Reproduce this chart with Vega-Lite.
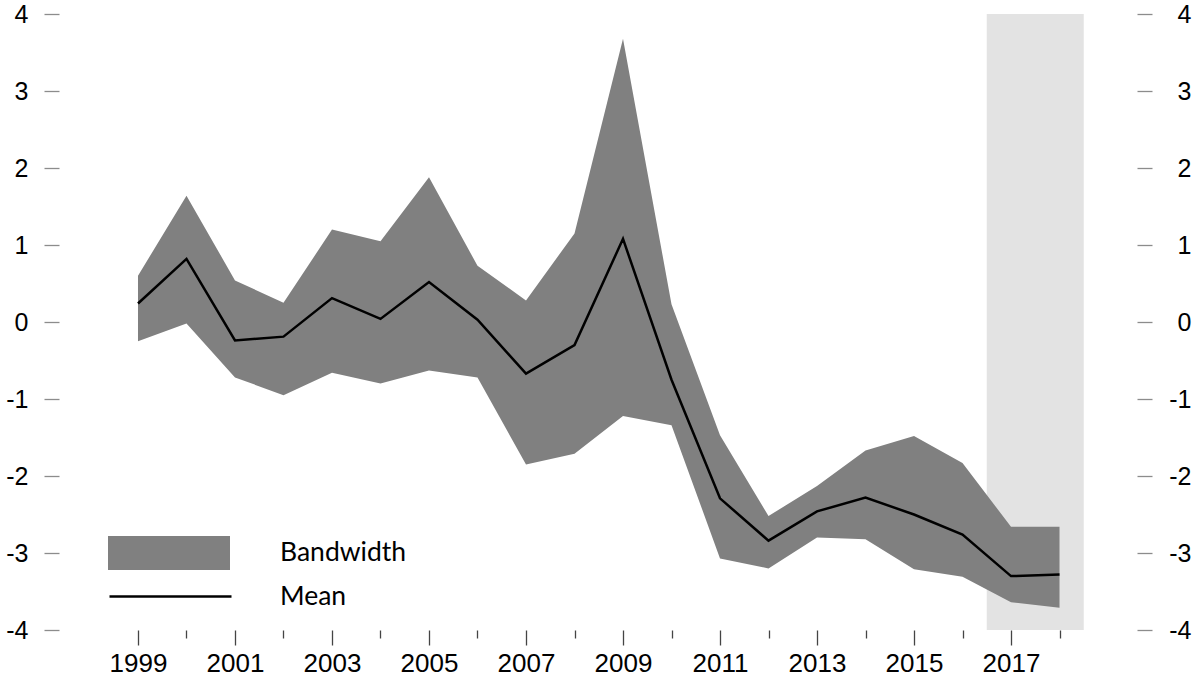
{
  "$schema": "https://vega.github.io/schema/vega-lite/v6.json",
  "width": 1108,
  "height": 616,
  "autosize": {"type": "none"},
  "padding": {"left": 44, "top": 14, "right": 42, "bottom": 47},
  "background": "white",
  "config": {
    "view": {"stroke": null},
    "axis": {"labelFont": "Liberation Sans", "labelFontSize": 25, "labelColor": "black", "domain": false, "grid": false, "title": null}
  },
  "datasets": {
    "series": [
      {"year": 1999, "lo": -0.25, "hi": 0.60, "mean": 0.24},
      {"year": 2000, "lo": -0.02, "hi": 1.64, "mean": 0.82},
      {"year": 2001, "lo": -0.72, "hi": 0.54, "mean": -0.24},
      {"year": 2002, "lo": -0.95, "hi": 0.25, "mean": -0.19},
      {"year": 2003, "lo": -0.66, "hi": 1.20, "mean": 0.31},
      {"year": 2004, "lo": -0.80, "hi": 1.05, "mean": 0.04},
      {"year": 2005, "lo": -0.63, "hi": 1.88, "mean": 0.52},
      {"year": 2006, "lo": -0.72, "hi": 0.73, "mean": 0.03},
      {"year": 2007, "lo": -1.85, "hi": 0.28, "mean": -0.67},
      {"year": 2008, "lo": -1.71, "hi": 1.15, "mean": -0.30},
      {"year": 2009, "lo": -1.22, "hi": 3.68, "mean": 1.08},
      {"year": 2010, "lo": -1.34, "hi": 0.23, "mean": -0.75},
      {"year": 2011, "lo": -3.07, "hi": -1.47, "mean": -2.29},
      {"year": 2012, "lo": -3.20, "hi": -2.52, "mean": -2.84},
      {"year": 2013, "lo": -2.80, "hi": -2.13, "mean": -2.46},
      {"year": 2014, "lo": -2.82, "hi": -1.67, "mean": -2.28},
      {"year": 2015, "lo": -3.21, "hi": -1.48, "mean": -2.50},
      {"year": 2016, "lo": -3.31, "hi": -1.83, "mean": -2.76},
      {"year": 2017, "lo": -3.64, "hi": -2.66, "mean": -3.30},
      {"year": 2018, "lo": -3.71, "hi": -2.66, "mean": -3.28}
    ],
    "band": [{"start": 2016.5, "end": 2018.5, "bottom": -4, "top": 4}]
  },
  "layer": [
    {
      "data": {"name": "band"},
      "mark": {"type": "rect", "color": "#e3e3e3"},
      "encoding": {
        "x": {"field": "start", "type": "quantitative", "scale": {"domain": [1997.062, 2019.907], "nice": false, "zero": false},
          "axis": {"orient": "bottom", "values": [1999, 2000, 2001, 2002, 2003, 2004, 2005, 2006, 2007, 2008, 2009, 2010, 2011, 2012, 2013, 2014, 2015, 2016, 2017, 2018],
            "labelExpr": "datum.value % 2 == 1 ? datum.value + '' : ''",
            "tickSize": {"condition": {"test": "datum.value % 2 == 1", "value": 15}, "value": 8},
            "tickColor": "#444444", "tickWidth": 1.3, "labelPadding": 5, "labelFont": "Liberation Sans", "labelFontSize": 26, "labelFlush": false, "labelOverlap": false}},
        "x2": {"field": "end"},
        "y": {"field": "bottom", "type": "quantitative", "scale": {"domain": [-4, 4], "nice": false, "zero": false},
          "axis": {"orient": "left", "values": [-4, -3, -2, -1, 0, 1, 2, 3, 4], "labelExpr": "datum.value < 0 ? '-' + abs(datum.value) : '' + datum.value", "tickSize": -15, "tickColor": "#8c8c8c", "tickWidth": 1.3, "labelPadding": 31, "labelAlign": "right", "labelBaseline": "middle"}},
        "y2": {"field": "top"}
      }
    },
    {
      "mark": {"type": "rule", "color": "#555555", "strokeWidth": 1},
      "encoding": {"y": {"datum": 0, "type": "quantitative", "axis": null}}
    },
    {
      "data": {"name": "series"},
      "mark": {"type": "area", "opacity": 1},
      "encoding": {
        "x": {"field": "year", "type": "quantitative"},
        "y": {"field": "lo", "type": "quantitative", "axis": null},
        "y2": {"field": "hi"},
        "fill": {"datum": "Bandwidth", "type": "nominal", "scale": {"range": ["#808080"]},
          "legend": {"orient": "none", "legendX": 64, "legendY": 478, "title": null, "symbolType": "M-1,-0.28H1V0.28H-1Z", "symbolSize": 14884, "symbolStrokeWidth": 0, "symbolOpacity": 1, "symbolFillColor": "#808080", "labelFont": "Lato", "labelFontSize": 26.5, "labelColor": "black", "labelOffset": 50}}
      }
    },
    {
      "data": {"name": "series"},
      "mark": {"type": "line", "strokeWidth": 2.5},
      "encoding": {
        "x": {"field": "year", "type": "quantitative"},
        "y": {"field": "mean", "type": "quantitative",
          "axis": {"orient": "right", "values": [-4, -3, -2, -1, 0, 1, 2, 3, 4], "labelExpr": "datum.value < 0 ? '-' + abs(datum.value) : '' + datum.value", "tickSize": -15, "tickColor": "#8c8c8c", "tickWidth": 1.3, "labelPadding": 54, "labelAlign": "right", "labelBaseline": "middle"}},
        "stroke": {"datum": "Mean", "type": "nominal", "scale": {"range": ["black"]},
          "legend": {"orient": "none", "legendX": 64, "legendY": 520, "title": null, "symbolType": "stroke", "symbolSize": 14884, "symbolStrokeWidth": 2.5, "symbolStrokeColor": "black", "labelFont": "Lato", "labelFontSize": 26.5, "labelColor": "black", "labelOffset": 47}}
      }
    }
  ],
  "resolve": {"axis": {"y": "independent"}, "legend": {"fill": "independent", "stroke": "independent"}}
}
